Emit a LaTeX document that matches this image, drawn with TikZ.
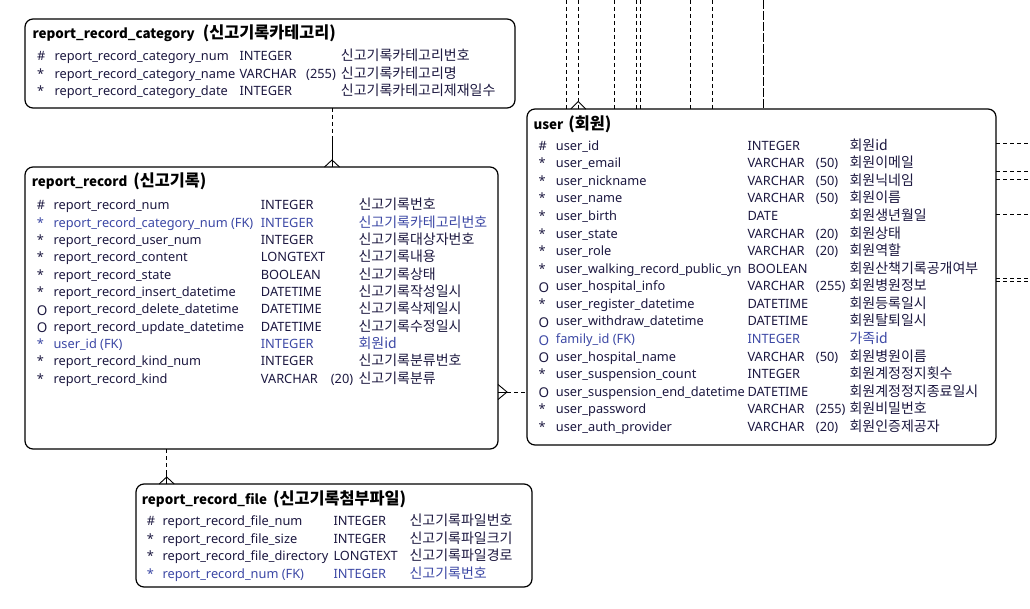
\documentclass[tikz,border=0pt]{standalone}
\usepackage{fontspec}
\setmainfont{Noto Sans}
\newfontfamily\krfont{Noto Sans CJK KR}
\usetikzlibrary{calc}
\definecolor{txt}{RGB}{28,24,64}
\definecolor{fk}{RGB}{60,72,165}
\newcount\rn
\def\xs{0}\def\xn{0}\def\xt{0}\def\xz{0}\def\xc{0}
\newcommand\setcols[5]{\def\xs{#1}\def\xn{#2}\def\xt{#3}\def\xz{#4}\def\xc{#5}}
\newcommand\opt{\raisebox{-1.8pt}{\fontsize{13.5}{14}\selectfont O}}
\newcommand\erow[7]{%
  \global\advance\rn by 1
  \node[cell,text=#7] (s\the\rn) at (\xs,#1) {#2};
  \node[cell,text=#7] (n\the\rn) at (\xn,#1) {#3};
  \node[cell,text=#7] (t\the\rn) at (\xt,#1) {#4};
  \if\relax\detokenize{#5}\relax\else\node[cell,text=#7] (z\the\rn) at (\xz,#1) {#5};\fi
  \node[cell,text=#7,font=\krfont\fontsize{14}{16}\selectfont] (c\the\rn) at (\xc,#1) {#6};
}
\newcommand\ttl[1]{{\fontsize{16.3}{18}\selectfont #1}}
\begin{document}
\begin{tikzpicture}[x=1pt,y=-1pt,
  cell/.style={anchor=base west,inner sep=0pt,font=\fontsize{12.8}{15}\selectfont},
  ttlnode/.style={anchor=base west,inner sep=0pt,font=\krfont\bfseries\fontsize{13.4}{17}\selectfont,text=black},
  ent/.style={draw,line width=1.2pt,rounded corners=8pt,anchor=north west,inner sep=0pt,outer sep=0pt,fill=white},
  conn/.style={line width=0.9pt},
  dsh/.style={line width=0.9pt,dash pattern=on 4pt off 3pt},
  ldsh/.style={line width=0.9pt,dash pattern=on 9pt off 2pt}]
\useasboundingbox (0,0) rectangle (1030,609);
\fill[white] (0,0) rectangle (1030,609);

% entity boxes
\node[ent,minimum width=490pt,minimum height=89pt] (cat) at (25,19) {};
\node[ent,minimum width=473pt,minimum height=282pt] (rr) at (25,167) {};
\node[ent,minimum width=469pt,minimum height=336pt] (user) at (527,109) {};
\node[ent,minimum width=396pt,minimum height=103pt] (file) at (136,484) {};

% connectors: category -> report_record
\coordinate (k1) at (332,137);
\draw[dsh] (k1 |- cat.south) -- (k1);
\draw[conn] (k1) -- (k1 |- rr.north);
\draw[conn] ($(k1 |- rr.north)+(-7.5,0)$) -- ($(k1 |- rr.north)+(0,-7)$) -- ($(k1 |- rr.north)+(7.5,0)$);

% report_record -> file
\coordinate (k2) at (166.7,470);
\draw[dsh] (k2 |- rr.south) -- (k2);
\draw[conn] (k2) -- (k2 |- file.north);
\draw[conn] ($(k2 |- file.north)+(-7.5,0)$) -- ($(k2 |- file.north)+(0,-7)$) -- ($(k2 |- file.north)+(7.5,0)$);

% user -> report_record
\coordinate (k3) at (507,392);
\draw[conn] (k3 -| rr.east) -- (k3);
\draw[dsh] (k3) -- (k3 -| user.west);
\draw[conn] ($(k3 -| rr.east)+(0,-7.5)$) -- (k3) -- ($(k3 -| rr.east)+(0,7.5)$);

% lines leaving the top of user
\foreach \x/\i in {566.7/1,578.3/2,614.5/3,636.5/4,640/5,690.3/6,712.3/7}{
  \coordinate (top\i) at (\x,0);
  \draw[dsh] (top\i) -- (top\i |- user.north);
}
\coordinate (top8) at (763.3,0);
\draw[ldsh] (top8) -- (top8 |- user.north);
\draw[conn] ($(top2 |- user.north)+(-7.5,0)$) -- ($(top2 |- user.north)+(0,-7.5)$) -- ($(top2 |- user.north)+(7.5,0)$);

% lines leaving the right of user
\foreach \y/\i in {143.3/1,171.7/2,179.3/3,214.3/4,278.3/5,281/6}{
  \coordinate (rt\i) at (1030,\y);
  \draw[dsh] (rt\i -| user.east) -- (rt\i);
}

% ---- report_record_category
\node[ttlnode] (catT) at (32.3,38.5) {report\_record\_category\hspace{8pt}\ttl{(신고기록카테고리)}};
\setcols{37}{54.3}{239.3}{306}{340.7}
\erow{60.7}{\#}{report\_record\_category\_num}{INTEGER}{}{신고기록카테고리번호}{txt}
\erow{78.1}{*}{report\_record\_category\_name}{VARCHAR}{(255)}{신고기록카테고리명}{txt}
\erow{95.5}{*}{report\_record\_category\_date}{INTEGER}{}{신고기록카테고리제재일수}{txt}

% ---- report_record
\node[ttlnode] (rrT) at (31.7,187) {report\_record\hspace{6pt}\ttl{(신고기록)}};
\setcols{36.7}{53.3}{260.7}{330.7}{358.3}
\erow{209.7}{\#}{report\_record\_num}{INTEGER}{}{신고기록번호}{txt}
\erow{227.1}{*}{report\_record\_category\_num (FK)}{INTEGER}{}{신고기록카테고리번호}{fk}
\erow{244.4}{*}{report\_record\_user\_num}{INTEGER}{}{신고기록대상자번호}{txt}
\erow{261.8}{*}{report\_record\_content}{LONGTEXT}{}{신고기록내용}{txt}
\erow{279.1}{*}{report\_record\_state}{BOOLEAN}{}{신고기록상태}{txt}
\erow{296.5}{*}{report\_record\_insert\_datetime}{DATETIME}{}{신고기록작성일시}{txt}
\erow{313.9}{\opt}{report\_record\_delete\_datetime}{DATETIME}{}{신고기록삭제일시}{txt}
\erow{331.2}{\opt}{report\_record\_update\_datetime}{DATETIME}{}{신고기록수정일시}{txt}
\erow{348.6}{*}{user\_id (FK)}{INTEGER}{}{회원id}{fk}
\erow{365.9}{*}{report\_record\_kind\_num}{INTEGER}{}{신고기록분류번호}{txt}
\erow{383.3}{*}{report\_record\_kind}{VARCHAR}{(20)}{신고기록분류}{txt}

% ---- user
\node[ttlnode] (userT) at (533.3,129.5) {user\hspace{5pt}\ttl{(회원)}};
\setcols{538.3}{555.7}{747.3}{815.7}{849.3}
\erow{150.3}{\#}{user\_id}{INTEGER}{}{회원id}{txt}
\erow{167.9}{*}{user\_email}{VARCHAR}{(50)}{회원이메일}{txt}
\erow{185.4}{*}{user\_nickname}{VARCHAR}{(50)}{회원닉네임}{txt}
\erow{203.0}{*}{user\_name}{VARCHAR}{(50)}{회원이름}{txt}
\erow{220.5}{*}{user\_birth}{DATE}{}{회원생년월일}{txt}
\erow{238.1}{*}{user\_state}{VARCHAR}{(20)}{회원상태}{txt}
\erow{255.7}{*}{user\_role}{VARCHAR}{(20)}{회원역할}{txt}
\erow{273.2}{*}{user\_walking\_record\_public\_yn}{BOOLEAN}{}{회원산책기록공개여부}{txt}
\erow{290.8}{\opt}{user\_hospital\_info}{VARCHAR}{(255)}{회원병원정보}{txt}
\erow{308.3}{*}{user\_register\_datetime}{DATETIME}{}{회원등록일시}{txt}
\erow{325.9}{\opt}{user\_withdraw\_datetime}{DATETIME}{}{회원탈퇴일시}{txt}
\erow{343.5}{\opt}{family\_id (FK)}{INTEGER}{}{가족id}{fk}
\erow{361.0}{\opt}{user\_hospital\_name}{VARCHAR}{(50)}{회원병원이름}{txt}
\erow{378.6}{*}{user\_suspension\_count}{INTEGER}{}{회원계정정지횟수}{txt}
\erow{396.1}{\opt}{user\_suspension\_end\_datetime}{DATETIME}{}{회원계정정지종료일시}{txt}
\erow{413.7}{*}{user\_password}{VARCHAR}{(255)}{회원비밀번호}{txt}
\erow{431.3}{*}{user\_auth\_provider}{VARCHAR}{(20)}{회원인증제공자}{txt}

% ---- report_record_file
\node[ttlnode] (fileT) at (141.7,504.5) {report\_record\_file\hspace{6pt}\ttl{(신고기록첨부파일)}};
\setcols{146.7}{162.3}{333.3}{400}{409.3}
\erow{525.7}{\#}{report\_record\_file\_num}{INTEGER}{}{신고기록파일번호}{txt}
\erow{543.2}{*}{report\_record\_file\_size}{INTEGER}{}{신고기록파일크기}{txt}
\erow{560.8}{*}{report\_record\_file\_directory}{LONGTEXT}{}{신고기록파일경로}{txt}
\erow{578.3}{*}{report\_record\_num (FK)}{INTEGER}{}{신고기록번호}{fk}
\end{tikzpicture}
\end{document}
